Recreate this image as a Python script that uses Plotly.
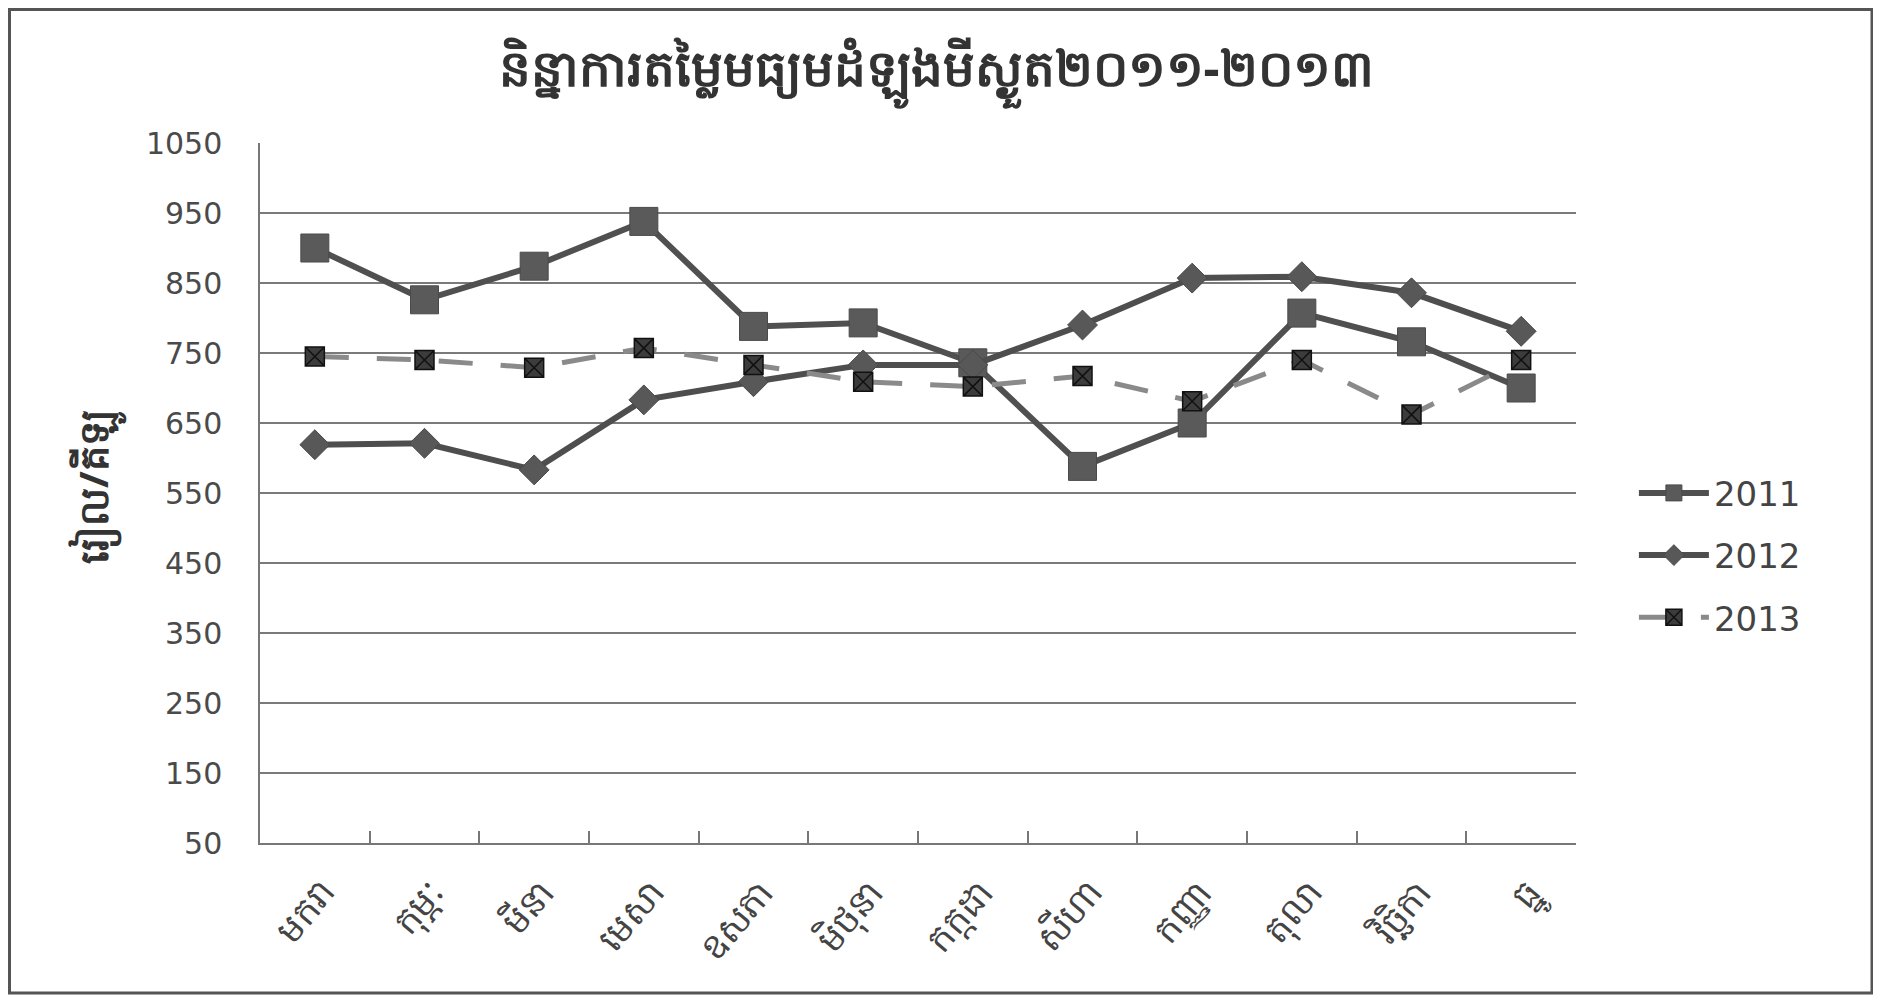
import plotly.graph_objects as go

months = ["មករា", "កុម្ភៈ", "មីនា", "មេសា", "ឧសភា", "មិថុនា",
          "កក្កដា", "សីហា", "កញ្ញា", "តុលា", "វិច្ឆិកា", "ធ្នូ"]
y2011 = [900, 826, 874, 938, 788, 793, 736, 588, 650, 807, 766, 700]
y2012 = [619, 621, 583, 683, 709, 733, 733, 790, 857, 859, 836, 781]
y2013 = [745, 740, 729, 757, 733, 709, 702, 717, 681, 740, 662, 740]
yticks = [50, 150, 250, 350, 450, 550, 650, 750, 850, 950, 1050]

title_text = "និន្នាការតម្លៃមធ្យមដំឡូងមីស្ងួត២០១១-២០១៣"
ytitle_text = "រៀល/គីឡូ"

KH_FONT = "Noto Sans, DejaVu Sans, sans-serif"
NUM_FONT = "DejaVu Sans, Verdana, sans-serif"

W, H = 1873, 995
L, T, PW, PH = 252, 135, 1316, 700

fig = go.Figure()
fig.add_trace(go.Scatter(
    x=months, y=y2011, name="2011", legendgroup="a", mode="lines+markers",
    line=dict(color="#505050", width=6),
    marker=dict(symbol="square", size=28, color="#5a5a5a",
                line=dict(color="#4a4a4a", width=1)),
))
fig.add_trace(go.Scatter(
    x=months, y=y2012, name="2012", legendgroup="b", mode="lines+markers",
    line=dict(color="#4e4e4e", width=6),
    marker=dict(symbol="diamond", size=23, color="#585858",
                line=dict(color="#4a4a4a", width=1)),
))
fig.add_trace(go.Scatter(
    x=months, y=y2013, name="2013", legendgroup="c", mode="lines+markers",
    line=dict(color="#8a8a8a", width=5, dash="34px,28px"),
    marker=dict(symbol="square-x", size=19, color="#3c3c3c",
                line=dict(color="#111111", width=1.5)),
))

fig.update_layout(
    width=W, height=H,
    paper_bgcolor="white", plot_bgcolor="white",
    margin=dict(l=L, r=W - L - PW, t=T, b=H - T - PH),
    title=dict(text="<b>" + title_text + "</b>", x=928 / W, y=1 - 60 / H,
               xanchor="center", yanchor="middle", xref="container",
               yref="container",
               font=dict(family=KH_FONT, size=50, color="#333333")),
    showlegend=True,
    legend=dict(x=1.044, y=0.411, xanchor="left", yanchor="middle",
                font=dict(family=NUM_FONT, size=34, color="#444444"),
                itemwidth=70, tracegroupgap=15, bgcolor="rgba(0,0,0,0)"),
    shapes=[dict(type="rect", xref="paper", yref="paper",
                 x0=(1.5 - L) / PW, x1=(1864 - L) / PW,
                 y0=(T + PH - 985) / PH, y1=(T + PH - 1.5) / PH,
                 line=dict(color="#555555", width=3))],
    annotations=[dict(text="<b>" + ytitle_text + "</b>", textangle=-90,
                      xref="paper", yref="paper",
                      x=(88 - L) / PW, y=(T + PH - 479) / PH,
                      xanchor="center", yanchor="middle", showarrow=False,
                      font=dict(family=KH_FONT, size=40, color="#333333"))],
)

fig.update_xaxes(
    type="category", range=[-0.5, 11.5],
    showline=True, linecolor="#777777", linewidth=1.5,
    ticks="inside", tickson="boundaries", ticklen=12,
    tickcolor="#777777", tickwidth=1.5,
    tickangle=-50, showgrid=False, ticklabelstandoff=12,
    ticklabelshift=8,
    tickfont=dict(family=KH_FONT, size=36, color="#444444"),
)
fig.update_yaxes(
    range=[50, 1050], tickvals=yticks, ticktext=[str(v) for v in yticks],
    showline=True, linecolor="#777777", linewidth=1.5,
    showgrid=True, gridcolor="#7a7a7a", gridwidth=1.5,
    zeroline=False, ticks="", ticklabelstandoff=30,
    tickfont=dict(family=NUM_FONT, size=30, color="#4a4a4a"),
)

fig.write_html("out.html")
